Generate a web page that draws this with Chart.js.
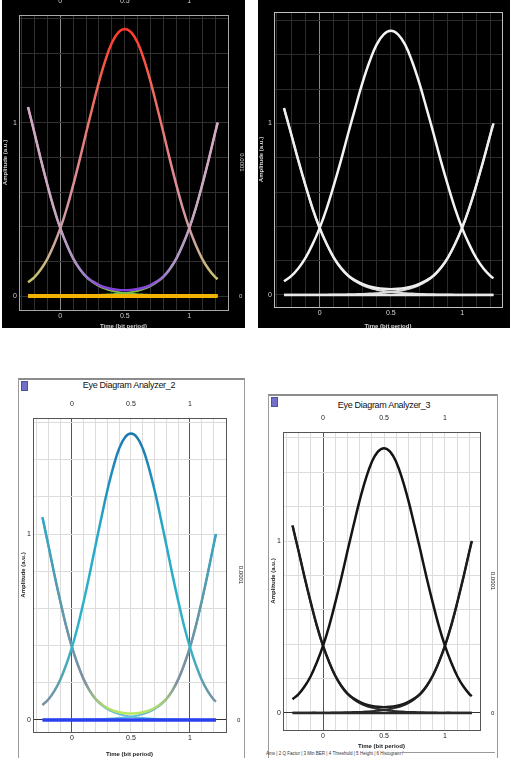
<!DOCTYPE html>
<html>
<head>
<meta charset="utf-8">
<script src="https://cdn.jsdelivr.net/npm/chart.js@4.4.1/dist/chart.umd.min.js"></script>
<style>
body { margin:0; width:510px; height:758px; background:#fff; position:relative; overflow:hidden; font-family:"Liberation Sans", Arial, sans-serif; }
.abs { position:absolute; }
canvas { position:absolute; }
.win { position:absolute; background:#fff; border-left:1px solid #9a9a9a; border-right:1px solid #9a9a9a; border-top:2px solid #8c8c8c; box-sizing:border-box; }
.icon { position:absolute; width:5px; height:8px; background:#7070c8; border:1px solid #5050a0; }
.wtitle { position:absolute; font-size:9px; color:#111; letter-spacing:-0.3px; white-space:nowrap; transform:translateX(-50%); }
.tabs { position:absolute; font-size:4.5px; color:#333; white-space:nowrap; }
</style>
</head>
<body>
<div class="abs" style="left:2px;top:0;width:243px;height:328px;background:#000"></div>
<div class="abs" style="left:258px;top:0;width:252px;height:328px;background:#000"></div>

<div class="win" style="left:18px;top:378px;width:227px;height:380px"></div>
<div class="icon" style="left:21px;top:381px"></div>
<div class="wtitle" style="left:129px;top:380px">Eye Diagram Analyzer_2</div>

<div class="win" style="left:268px;top:394px;width:230px;height:364px"></div>
<div class="icon" style="left:271px;top:397px"></div>
<div class="wtitle" style="left:384px;top:400px">Eye Diagram Analyzer_3</div>
<div class="tabs" style="left:266px;top:751px">Ams | 2 Q Factor | 3 Min BER | 4 Threshold | 5 Height | 6 Histogram /</div>
<div class="abs" style="left:400px;top:752px;width:95px;height:1px;background:#9a9a9a"></div>

<canvas id="c1" width="243" height="330" style="left:2px;top:0"></canvas>
<canvas id="c2" width="252" height="330" style="left:258px;top:0"></canvas>
<canvas id="c3" width="224" height="363" style="left:20px;top:395px"></canvas>
<canvas id="c4" width="226" height="340" style="left:270px;top:410px"></canvas>

<script>
// sample times (bit periods) and the traced bit patterns
const times  = [-0.25,-0.2,-0.15,-0.1,-0.05,0,0.05,0.1,0.15,0.2,0.25,0.3,0.35,0.4,0.45,0.5,0.55,0.6,0.65,0.7,0.75,0.8,0.85,0.9,0.95,1,1.05,1.1,1.15,1.2,1.22];
const bit010 = [0.08,0.11,0.155,0.215,0.295,0.39,0.505,0.64,0.785,0.94,1.09,1.235,1.36,1.46,1.52,1.54,1.52,1.46,1.36,1.235,1.09,0.94,0.785,0.64,0.505,0.39,0.295,0.215,0.155,0.11,0.098];
const bit101 = [1.09,0.94,0.786,0.642,0.507,0.392,0.297,0.218,0.158,0.114,0.085,0.064,0.05,0.041,0.036,0.034,0.036,0.041,0.05,0.064,0.085,0.114,0.158,0.218,0.297,0.392,0.507,0.641,0.786,0.941,1.0];
const bit100 = [1.09,0.94,0.785,0.64,0.505,0.39,0.295,0.215,0.155,0.11,0.08,0.058,0.042,0.031,0.023,0.017,0.013,0.01,0.008,0.006,0.005,0.004,0.003,0.003,0.002,0.002,0.002,0.001,0.001,0.001,0.001];
const bit001 = [0.001,0.001,0.001,0.002,0.002,0.002,0.002,0.003,0.003,0.004,0.005,0.006,0.008,0.01,0.013,0.017,0.023,0.031,0.042,0.058,0.08,0.11,0.155,0.215,0.295,0.39,0.505,0.64,0.785,0.94,1.0];
const bit000 = [0,0,0,0,0,0,0,0,0,0,0,0,0,0,0,0,0,0,0,0,0,0,0,0,0,0,0,0,0,0,0];

const xGrid = [-0.3,-0.2,-0.1,0,0.1,0.2,0.3,0.4,0.5,0.6,0.7,0.8,0.9,1,1.1,1.2];
const yGrid = [0,0.2,0.4,0.6,0.8,1,1.2,1.4,1.6];
const xLabels = ["0","0.5","1"];
const xLabelAt = [0,0.5,1];
const yLabels = ["0","1"];
const yLabelAt = [0,1];
const xTitle = "Time (bit period)";
const yTitle = "Amplitude (a.u.)";
const yRightTitle = "0.0001";

Chart.defaults.font.family = '"Liberation Sans", Arial, sans-serif';

function vGrad(stops) {
  return ctx => {
    const ch = ctx.chart;
    if (!ch.chartArea) return stops[0][1];
    const ys = ch.scales.y;
    const v0 = stops[0][0], v1 = stops[stops.length - 1][0];
    const g = ch.ctx.createLinearGradient(0, ys.getPixelForValue(v0), 0, ys.getPixelForValue(v1));
    stops.forEach(([v, c]) => g.addColorStop((v - v0) / (v1 - v0), c));
    return g;
  };
}

function pts(vals) { return times.map((t, i) => ({ x: t, y: vals[i] })); }

function lbl(v, at, names) {
  const i = at.findIndex(a => Math.abs(a - v) < 1e-6);
  return i >= 0 ? names[i] : "";
}

function makeChart(id, p) {
  const tickFont = { size: 7 };
  const titleFont = { size: 6, weight: "bold" };
  const scales = {
    x: {
      type: "linear", position: "bottom", min: p.xmin, max: p.xmax,
      afterFit: s => { s.height = p.bottom; },
      afterBuildTicks: s => { s.ticks = xGrid.filter(v => v > p.xmin && v < p.xmax).map(v => ({ value: v })); },
      ticks: { autoSkip: false, maxRotation: 0, padding: 2, color: p.text, font: tickFont, callback: v => lbl(v, xLabelAt, xLabels) },
      grid: { drawTicks: false, color: c => (c.tick && p.strongX.includes(c.tick.value)) ? p.strong : p.grid },
      border: { color: p.frame, width: 1 },
      title: { display: true, text: xTitle, color: p.text, font: titleFont, padding: 0 }
    },
    xTop: {
      type: "linear", position: "top", min: p.xmin, max: p.xmax,
      afterFit: s => { s.height = p.top; },
      afterBuildTicks: s => { s.ticks = xGrid.filter(v => v > p.xmin && v < p.xmax).map(v => ({ value: v })); },
      ticks: { autoSkip: false, maxRotation: 0, padding: 2, color: p.text, font: tickFont, callback: v => lbl(v, xLabelAt, xLabels) },
      grid: { display: false },
      border: { color: p.frame, width: 1 }
    },
    y: {
      type: "linear", position: "left", min: p.ymin, max: p.ymax,
      afterFit: s => { s.width = p.left; },
      afterBuildTicks: s => { s.ticks = yGrid.filter(v => v < p.ymax).map(v => ({ value: v })); },
      ticks: { autoSkip: false, padding: 2, color: p.text, font: tickFont, callback: v => lbl(v, yLabelAt, yLabels) },
      grid: { drawTicks: false, color: c => (c.tick && c.tick.value === 0) ? p.zeroGrid : p.grid },
      border: { color: p.frame, width: 1 },
      title: { display: true, text: yTitle, color: p.text, font: titleFont, padding: 0 }
    },
    yRight: {
      type: "linear", position: "right", min: p.ymin, max: p.ymax,
      afterFit: s => { s.width = p.right; },
      afterBuildTicks: s => { s.ticks = [{ value: 0 }]; },
      ticks: { autoSkip: false, padding: 3, color: p.text, font: { size: 6 }, callback: v => lbl(v, [0], ["0"]) },
      grid: { display: false },
      border: { color: p.frame, width: 1 },
      title: { display: p.rightTitle, text: yRightTitle, color: p.text, font: { size: 6 }, padding: 0 }
    }
  };
  const ds = (data, color, width, order) => ({
    data: pts(data), borderColor: color, borderWidth: width, order: order,
    pointRadius: 0, tension: 0.4, fill: false, xAxisID: "x", yAxisID: "y"
  });
  new Chart(document.getElementById(id), {
    type: "line",
    data: {
      datasets: [
        ds(bit000, p.zeroColor, p.zeroWidth, 0),
        ds(bit010, p.bellColor, p.width, 1),
        ds(bit101, p.uColor, p.width, 2),
        ds(bit100, p.tailColor, p.width - 0.5, 3),
        ds(bit001, p.tailColor, p.width - 0.5, 3)
      ]
    },
    options: {
      responsive: false, animation: false,
      layout: { padding: 0 },
      plugins: { legend: { display: false }, tooltip: { enabled: false } },
      scales: scales
    }
  });
}

// top-left: colour eye (black)
makeChart("c1", {
  xmin: -0.32, xmax: 1.30, ymin: -0.08, ymax: 1.62,
  left: 17, right: 17, top: 15, bottom: 20, rightTitle: true,
  text: "#d0d0d0", frame: "#a8a8a8", grid: "#303030", strong: "#8a8a8a", strongX: [0], zeroGrid: "#303030",
  width: 2.5,
  bellColor: vGrad([[1.54, "#ff3a2c"], [1.2, "#f06858"], [0.7, "#e08a90"], [0.35, "#d0a0a8"], [0.08, "#c8c468"]]),
  uColor: vGrad([[1.1, "#d8a8c4"], [0.5, "#c8a8c0"], [0.15, "#a890c8"], [0.03, "#8038e0"]]),
  tailColor: vGrad([[1.1, "#d0a8c0"], [0.2, "#b0b080"], [0.0, "#70c040"]]),
  zeroColor: "#f2b400", zeroWidth: 4
});

// top-right: white eye (black)
makeChart("c2", {
  xmin: -0.32, xmax: 1.28, ymin: -0.07, ymax: 1.65,
  left: 16, right: 8, top: 12, bottom: 23, rightTitle: false,
  text: "#d8d8d8", frame: "#c0c0c0", grid: "#2c2c2c", strong: "#8a8a8a", strongX: [0], zeroGrid: "#2c2c2c",
  width: 2.5,
  bellColor: "#f4f4f4", uColor: "#eeeeee", tailColor: "#dddddd",
  zeroColor: "#e8e8e8", zeroWidth: 2.5
});

// bottom-left: Eye Diagram Analyzer_2
makeChart("c3", {
  xmin: -0.33, xmax: 1.305, ymin: -0.065, ymax: 1.624,
  left: 13, right: 18, top: 23, bottom: 26, rightTitle: true,
  text: "#222", frame: "#555", grid: "#dcdcdc", strong: "#555", strongX: [0, 1], zeroGrid: "#333",
  width: 2.5,
  bellColor: vGrad([[1.54, "#1a78b0"], [1.0, "#28a8c8"], [0.4, "#30b4c8"], [0.08, "#7890a0"]]),
  uColor: vGrad([[1.1, "#2ea8c8"], [0.6, "#6098a8"], [0.2, "#8090a0"], [0.04, "#b8e860"]]),
  tailColor: vGrad([[1.1, "#30a8c8"], [0.2, "#8898a8"], [0.0, "#60c0e0"]]),
  zeroColor: "#2a40f0", zeroWidth: 3.5
});

// bottom-right: Eye Diagram Analyzer_3
makeChart("c4", {
  xmin: -0.328, xmax: 1.287, ymin: -0.099, ymax: 1.634,
  left: 13, right: 16, top: 22, bottom: 20, rightTitle: true,
  text: "#222", frame: "#555", grid: "#dcdcdc", strong: "#555", strongX: [0], zeroGrid: "#333",
  width: 2.5,
  bellColor: "#141414", uColor: "#1c1c1c", tailColor: "#2a2a2a",
  zeroColor: "#2a2a2a", zeroWidth: 2.5
});
</script>
</body>
</html>
